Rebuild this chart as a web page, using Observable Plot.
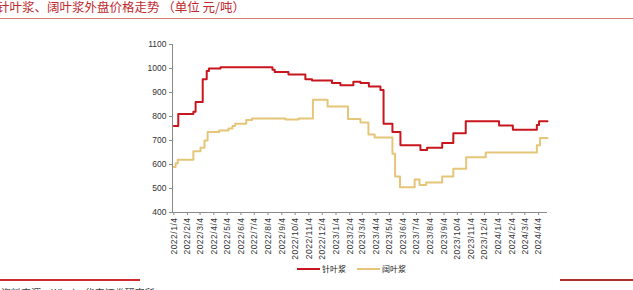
<!DOCTYPE html>
<html>
<head>
<meta charset="utf-8">
<script src="https://cdn.jsdelivr.net/npm/d3@7"></script>
<script src="https://cdn.jsdelivr.net/npm/@observablehq/plot@0.6"></script>
<style>
  html, body { margin: 0; padding: 0; background: #fff; }
  body { width: 633px; height: 290px; overflow: hidden; position: relative; font-family: "Liberation Sans", Arial, sans-serif; }
  .abs { position: absolute; }
  #title { left: -3px; top: 0px; font-family: "Noto Sans CJK SC", sans-serif; font-size: 12.5px; line-height: 13px; color: #c0282d; white-space: nowrap; }
  #rule-top { left: 0; top: 18px; width: 633px; height: 1.3px; background: #d77b7b; }
  #chart { left: 0; top: 30px; }
  .leg-line { height: 2px; width: 23px; }
  .leg-text { font-family: "Noto Sans CJK SC", sans-serif; font-size: 8px; line-height: 10px; color: #222; white-space: nowrap; }
  #rule-bl { left: 0; top: 279px; width: 140px; height: 1.5px; background: #d0282d; }
  #rule-br { left: 560px; top: 279px; width: 73px; height: 1.5px; background: #b03030; }
  #source { left: 1px; top: 287px; font-family: "Noto Sans CJK SC", sans-serif; font-size: 10px; line-height: 12px; color: #444; white-space: nowrap; }
  [aria-label="x-axis tick label"] text { letter-spacing: 0.5px; }
</style>
</head>
<body>
<div id="title" class="abs">针叶浆、阔叶浆外盘价格走势 （单位 元/吨）</div>
<div id="rule-top" class="abs"></div>
<div id="chart" class="abs"></div>
<div class="abs leg-line" style="left:297px; top:268px; background:#c8161e;"></div>
<div class="abs leg-text" style="left:322px; top:264px;">针叶浆</div>
<div class="abs leg-line" style="left:357px; top:268px; background:#e5c578;"></div>
<div class="abs leg-text" style="left:382px; top:264px;">阔叶浆</div>
<div id="rule-bl" class="abs"></div>
<div id="rule-br" class="abs"></div>
<div id="source" class="abs">资料来源：Wind，华安证券研究所</div>
<script>
// 针叶浆 (softwood) price steps
const softwoodDates = ["2022-01-04","2022-01-14","2022-02-17","2022-02-22","2022-03-10","2022-03-19","2022-03-24","2022-04-19","2022-08-14","2022-08-19","2022-09-19","2022-10-27","2022-11-11","2022-12-26","2023-01-14","2023-02-12","2023-02-28","2023-03-19","2023-04-14","2023-04-21","2023-05-11","2023-05-29","2023-07-13","2023-07-28","2023-08-31","2023-09-25","2023-10-23","2024-01-06","2024-02-06","2024-03-31","2024-04-05","2024-04-24"];
const softwoodPrices = [760,810,820,860,955,990,1000,1005,995,985,975,955,950,940,930,945,940,925,910,770,735,680,660,670,690,730,780,762,745,765,780,780];
// 阔叶浆 (hardwood) price steps
const hardwoodDates = ["2022-01-04","2022-01-08","2022-01-13","2022-02-17","2022-03-05","2022-03-14","2022-03-21","2022-04-16","2022-05-07","2022-05-16","2022-05-22","2022-06-16","2022-06-29","2022-09-12","2022-10-12","2022-11-13","2022-12-16","2023-01-31","2023-02-28","2023-03-18","2023-04-01","2023-05-11","2023-05-17","2023-05-28","2023-06-30","2023-07-11","2023-07-26","2023-08-31","2023-09-25","2023-10-24","2023-12-07","2024-03-31","2024-04-07","2024-04-24"];
const hardwoodPrices = [590,605,620,655,670,700,735,742,750,760,770,785,792,788,792,870,842,790,775,725,712,645,550,505,537,515,525,550,582,630,650,680,710,710];
const seriesNames = ["针叶浆","阔叶浆"];
const seriesColors = ["#c8161e","#e5c578"];
const yTicks = [400,500,600,700,800,900,1000,1100];
const xTickDates = ["2022-01-04","2022-02-04","2022-03-04","2022-04-04","2022-05-04","2022-06-04","2022-07-04","2022-08-04","2022-09-04","2022-10-04","2022-11-04","2022-12-04","2023-01-04","2023-02-04","2023-03-04","2023-04-04","2023-05-04","2023-06-04","2023-07-04","2023-08-04","2023-09-04","2023-10-04","2023-11-04","2023-12-04","2024-01-04","2024-02-04","2024-03-04","2024-04-04"];
const xDomain = ["2022-01-01","2024-04-24"];

const parse = d3.utcParse("%Y-%m-%d");
const rows = [];
softwoodDates.forEach((d, i) => rows.push({series: seriesNames[0], date: parse(d), price: softwoodPrices[i]}));
hardwoodDates.forEach((d, i) => rows.push({series: seriesNames[1], date: parse(d), price: hardwoodPrices[i]}));
const d0 = parse(xDomain[0]), d1 = parse(xDomain[1]);

const chart = Plot.plot({
  width: 633,
  height: 240,
  marginLeft: 172,
  marginRight: 86,
  marginTop: 14,
  marginBottom: 58,
  style: {fontFamily: "'Liberation Sans', Arial, sans-serif", fontSize: "8.5px", color: "#333", background: "transparent"},
  x: {type: "utc", domain: [d0, d1]},
  y: {domain: [400, 1100]},
  color: {domain: seriesNames, range: seriesColors},
  marks: [
    Plot.axisY({ticks: yTicks, tickFormat: d3.format("d"), tickSize: 3, tickPadding: 3, label: null, stroke: "#8a8a8a", fill: "#333"}),
    Plot.axisX({ticks: xTickDates.map(parse), tickFormat: d3.utcFormat("%Y/%-m/%-d"), tickRotate: -90, tickSize: 3, tickPadding: 2, label: null, stroke: "#8a8a8a", fill: "#333"}),
    Plot.ruleX([d0], {stroke: "#8a8a8a"}),
    Plot.ruleY([400], {stroke: "#8a8a8a"}),
    Plot.lineY(rows, {x: "date", y: "price", z: "series", stroke: "series", curve: "step-after", strokeWidth: 2})
  ]
});
document.getElementById("chart").appendChild(chart);
</script>
</body>
</html>
